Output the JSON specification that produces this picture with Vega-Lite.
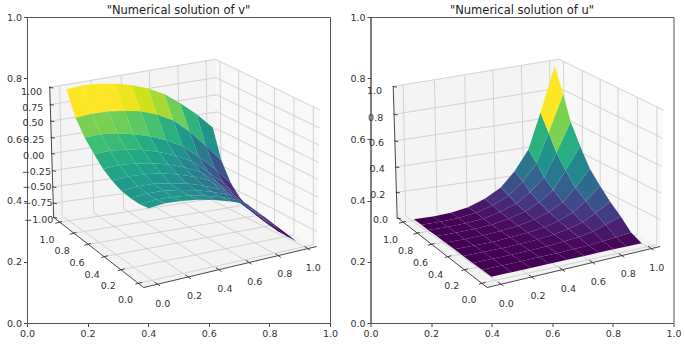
{"$schema":"https://vega.github.io/schema/vega-lite/v6.json","padding":{"left":5,"top":4,"right":0,"bottom":0},"background":"white","bounds":"flush","spacing":40.5,
"config":{"view":{"stroke":"#555555","strokeWidth":1},"font":"DejaVu Sans","axis":{"grid":false,"title":null,"domainColor":"#555555","tickColor":"#444444","labelColor":"#333333","labelFontSize":9.5,"tickSize":3.5,"labelFlush":false,"labelOverlap":false},"title":{"fontSize":11.5,"fontWeight":"normal","color":"#222222","offset":-4.3}},
"datasets":{
"grid":[
{"x":0.116,"y":0.350,"x2":0.108,"y2":0.777},{"x":0.220,"y":0.361,"x2":0.211,"y2":0.793},{"x":0.319,"y":0.374,"x2":0.311,"y2":0.807},{"x":0.413,"y":0.386,"x2":0.404,"y2":0.827},{"x":0.507,"y":0.398,"x2":0.498,"y2":0.842},{"x":0.597,"y":0.408,"x2":0.591,"y2":0.858},
{"x":0.430,"y":0.127,"x2":0.116,"y2":0.350},{"x":0.532,"y":0.150,"x2":0.220,"y2":0.361},{"x":0.633,"y":0.174,"x2":0.319,"y2":0.374},{"x":0.732,"y":0.198,"x2":0.413,"y2":0.386},{"x":0.829,"y":0.220,"x2":0.507,"y2":0.398},{"x":0.925,"y":0.244,"x2":0.597,"y2":0.408},
{"x":0.369,"y":0.130,"x2":0.945,"y2":0.256},{"x":0.311,"y":0.174,"x2":0.881,"y2":0.288},{"x":0.256,"y":0.217,"x2":0.817,"y2":0.321},{"x":0.200,"y":0.257,"x2":0.758,"y2":0.351},{"x":0.152,"y":0.293,"x2":0.699,"y2":0.382},{"x":0.105,"y":0.329,"x2":0.641,"y2":0.411},
{"x":0.945,"y":0.256,"x2":0.945,"y2":0.707},{"x":0.881,"y":0.288,"x2":0.881,"y2":0.738},{"x":0.817,"y":0.321,"x2":0.817,"y2":0.768},{"x":0.758,"y":0.351,"x2":0.758,"y2":0.797},{"x":0.699,"y":0.382,"x2":0.699,"y2":0.825},{"x":0.641,"y":0.411,"x2":0.637,"y2":0.855}],
"axes3d":[
{"x":0.075,"y":0.773,"x2":0.088,"y2":0.345},{"x":0.088,"y":0.345,"x2":0.385,"y2":0.116},{"x":0.385,"y":0.116,"x2":0.956,"y2":0.250},
{"x":0.439,"y":0.121,"x2":0.421,"y2":0.134},{"x":0.541,"y":0.144,"x2":0.523,"y2":0.157},{"x":0.642,"y":0.168,"x2":0.624,"y2":0.181},{"x":0.741,"y":0.192,"x2":0.723,"y2":0.205},{"x":0.838,"y":0.214,"x2":0.820,"y2":0.227},{"x":0.934,"y":0.238,"x2":0.916,"y2":0.251},
{"x":0.358,"y":0.127,"x2":0.380,"y2":0.133},{"x":0.300,"y":0.171,"x2":0.322,"y2":0.177},{"x":0.245,"y":0.214,"x2":0.267,"y2":0.220},{"x":0.189,"y":0.254,"x2":0.211,"y2":0.260},{"x":0.141,"y":0.290,"x2":0.163,"y2":0.296},{"x":0.094,"y":0.326,"x2":0.116,"y2":0.332}],
"xyLabels":[
{"x":0.448,"y":0.062,"t":"0.0"},{"x":0.553,"y":0.087,"t":"0.2"},{"x":0.653,"y":0.110,"t":"0.4"},{"x":0.752,"y":0.135,"t":"0.6"},{"x":0.851,"y":0.159,"t":"0.8"},{"x":0.945,"y":0.181,"t":"1.0"},
{"x":0.325,"y":0.076,"t":"0.0"},{"x":0.268,"y":0.120,"t":"0.2"},{"x":0.215,"y":0.158,"t":"0.4"},{"x":0.165,"y":0.196,"t":"0.6"},{"x":0.116,"y":0.234,"t":"0.8"},{"x":0.066,"y":0.271,"t":"1.0"}],
"zGridV":[
{"x":0.075,"y":0.770,"x2":0.622,"y2":0.862},{"x":0.622,"y":0.862,"x2":0.967,"y2":0.696},
{"x":0.077,"y":0.714,"x2":0.623,"y2":0.802},{"x":0.623,"y":0.802,"x2":0.966,"y2":0.637},
{"x":0.078,"y":0.660,"x2":0.626,"y2":0.746},{"x":0.626,"y":0.746,"x2":0.964,"y2":0.581},
{"x":0.080,"y":0.606,"x2":0.627,"y2":0.690},{"x":0.627,"y":0.690,"x2":0.963,"y2":0.524},
{"x":0.081,"y":0.554,"x2":0.628,"y2":0.634},{"x":0.628,"y":0.634,"x2":0.961,"y2":0.469},
{"x":0.084,"y":0.498,"x2":0.629,"y2":0.577},{"x":0.629,"y":0.577,"x2":0.960,"y2":0.411},
{"x":0.085,"y":0.445,"x2":0.631,"y2":0.520},{"x":0.631,"y":0.520,"x2":0.958,"y2":0.355},
{"x":0.087,"y":0.392,"x2":0.632,"y2":0.465},{"x":0.632,"y":0.465,"x2":0.957,"y2":0.299}],
"zGridU":[
{"x":0.075,"y":0.773,"x2":0.622,"y2":0.862},{"x":0.622,"y":0.862,"x2":0.967,"y2":0.696},
{"x":0.078,"y":0.682,"x2":0.624,"y2":0.768},{"x":0.624,"y":0.768,"x2":0.965,"y2":0.603},
{"x":0.080,"y":0.595,"x2":0.627,"y2":0.677},{"x":0.627,"y":0.677,"x2":0.962,"y2":0.511},
{"x":0.083,"y":0.510,"x2":0.629,"y2":0.590},{"x":0.629,"y":0.590,"x2":0.960,"y2":0.424},
{"x":0.085,"y":0.427,"x2":0.631,"y2":0.503},{"x":0.631,"y":0.503,"x2":0.958,"y2":0.337}],
"zTicksV":[
{"x":0.073,"y":0.770,"x2":0.087,"y2":0.768},{"x":0.075,"y":0.714,"x2":0.089,"y2":0.712},{"x":0.076,"y":0.660,"x2":0.090,"y2":0.658},{"x":0.078,"y":0.606,"x2":0.092,"y2":0.604},{"x":0.079,"y":0.554,"x2":0.093,"y2":0.552},{"x":0.082,"y":0.498,"x2":0.096,"y2":0.496},{"x":0.083,"y":0.445,"x2":0.097,"y2":0.443},{"x":0.085,"y":0.392,"x2":0.099,"y2":0.390},{"x":0.086,"y":0.345,"x2":0.100,"y2":0.343}],
"zTicksU":[
{"x":0.073,"y":0.773,"x2":0.087,"y2":0.771},{"x":0.076,"y":0.682,"x2":0.090,"y2":0.680},{"x":0.078,"y":0.595,"x2":0.092,"y2":0.593},{"x":0.081,"y":0.510,"x2":0.095,"y2":0.508},{"x":0.083,"y":0.427,"x2":0.097,"y2":0.425},{"x":0.086,"y":0.343,"x2":0.100,"y2":0.341}],
"zLabelsV":[
{"x":0.015,"y":0.756,"t":"1.00"},{"x":0.019,"y":0.704,"t":"0.75"},{"x":0.020,"y":0.653,"t":"0.50"},{"x":0.022,"y":0.598,"t":"0.25"},{"x":0.022,"y":0.546,"t":"0.00"},{"x":0.031,"y":0.495,"t":"−0.25"},{"x":0.033,"y":0.443,"t":"−0.50"},{"x":0.036,"y":0.392,"t":"−0.75"},{"x":0.039,"y":0.337,"t":"−1.00"}],
"zLabelsU":[
{"x":0.013,"y":0.758,"t":"1.0"},{"x":0.017,"y":0.671,"t":"0.8"},{"x":0.020,"y":0.588,"t":"0.6"},{"x":0.022,"y":0.503,"t":"0.4"},{"x":0.024,"y":0.419,"t":"0.2"},{"x":0.033,"y":0.337,"t":"0.0"}],
"paneBack":[{"x":[0.075,0.622,0.633,0.088],"y":[0.773,0.862,0.416,0.345]}],
"paneSide":[{"x":[0.622,0.967,0.956,0.633],"y":[0.862,0.696,0.250,0.416]}],
"paneFloor":[{"x":[0.088,0.633,0.956,0.385],"y":[0.345,0.416,0.250,0.116]}],
"v":[
{"id":1,"c":1,"x":[0.160,0.214,0.184,0.130],"y":[0.671,0.684,0.777,0.764]},
{"id":2,"c":1,"x":[0.214,0.268,0.238,0.184],"y":[0.684,0.691,0.782,0.777]},
{"id":3,"c":1,"x":[0.268,0.321,0.291,0.238],"y":[0.691,0.694,0.782,0.782]},
{"id":4,"c":0.97,"x":[0.321,0.375,0.345,0.291],"y":[0.694,0.692,0.778,0.782]},
{"id":5,"c":0.93,"x":[0.375,0.429,0.399,0.345],"y":[0.692,0.681,0.766,0.778]},
{"id":6,"c":0.87,"x":[0.429,0.483,0.453,0.399],"y":[0.681,0.662,0.748,0.766]},
{"id":7,"c":0.78,"x":[0.483,0.537,0.506,0.453],"y":[0.662,0.625,0.718,0.748]},
{"id":8,"c":0.65,"x":[0.537,0.590,0.560,0.506],"y":[0.625,0.579,0.682,0.718]},
{"id":9,"c":0.51,"x":[0.590,0.642,0.613,0.560],"y":[0.579,0.530,0.639,0.682]},
{"id":10,"c":0.80,"x":[0.190,0.244,0.214,0.160],"y":[0.606,0.617,0.684,0.671]},
{"id":11,"c":0.80,"x":[0.244,0.298,0.268,0.214],"y":[0.617,0.620,0.691,0.684]},
{"id":12,"c":0.78,"x":[0.298,0.352,0.321,0.268],"y":[0.620,0.617,0.694,0.691]},
{"id":13,"c":0.75,"x":[0.352,0.405,0.375,0.321],"y":[0.617,0.610,0.692,0.694]},
{"id":14,"c":0.71,"x":[0.405,0.459,0.429,0.375],"y":[0.610,0.597,0.681,0.692]},
{"id":15,"c":0.64,"x":[0.459,0.513,0.483,0.429],"y":[0.597,0.578,0.662,0.681]},
{"id":16,"c":0.54,"x":[0.513,0.567,0.537,0.483],"y":[0.578,0.543,0.625,0.662]},
{"id":17,"c":0.41,"x":[0.567,0.621,0.590,0.537],"y":[0.543,0.503,0.579,0.625]},
{"id":18,"c":0.26,"x":[0.621,0.673,0.642,0.590],"y":[0.503,0.457,0.530,0.579]},
{"id":19,"c":0.69,"x":[0.221,0.275,0.244,0.190],"y":[0.552,0.563,0.617,0.606]},
{"id":20,"c":0.68,"x":[0.275,0.329,0.298,0.244],"y":[0.563,0.567,0.620,0.617]},
{"id":21,"c":0.66,"x":[0.329,0.382,0.352,0.298],"y":[0.567,0.565,0.617,0.620]},
{"id":22,"c":0.62,"x":[0.382,0.436,0.405,0.352],"y":[0.565,0.559,0.610,0.617]},
{"id":23,"c":0.56,"x":[0.436,0.490,0.459,0.405],"y":[0.559,0.547,0.597,0.610]},
{"id":24,"c":0.51,"x":[0.490,0.544,0.513,0.459],"y":[0.547,0.529,0.578,0.597]},
{"id":25,"c":0.41,"x":[0.544,0.598,0.567,0.513],"y":[0.529,0.494,0.543,0.578]},
{"id":26,"c":0.28,"x":[0.598,0.652,0.621,0.567],"y":[0.494,0.454,0.503,0.543]},
{"id":27,"c":0.14,"x":[0.652,0.704,0.673,0.621],"y":[0.454,0.408,0.457,0.503]},
{"id":28,"c":0.62,"x":[0.251,0.305,0.275,0.221],"y":[0.503,0.516,0.563,0.552]},
{"id":29,"c":0.62,"x":[0.305,0.359,0.329,0.275],"y":[0.516,0.521,0.567,0.563]},
{"id":30,"c":0.60,"x":[0.359,0.413,0.382,0.329],"y":[0.521,0.522,0.565,0.567]},
{"id":31,"c":0.57,"x":[0.413,0.467,0.436,0.382],"y":[0.522,0.518,0.559,0.565]},
{"id":32,"c":0.52,"x":[0.467,0.521,0.490,0.436],"y":[0.518,0.508,0.547,0.559]},
{"id":33,"c":0.46,"x":[0.521,0.575,0.544,0.490],"y":[0.508,0.493,0.529,0.547]},
{"id":34,"c":0.36,"x":[0.575,0.629,0.598,0.544],"y":[0.493,0.458,0.494,0.529]},
{"id":35,"c":0.23,"x":[0.629,0.683,0.652,0.598],"y":[0.458,0.419,0.454,0.494]},
{"id":36,"c":0.09,"x":[0.683,0.735,0.704,0.652],"y":[0.419,0.375,0.408,0.454]},
{"id":37,"c":0.58,"x":[0.281,0.335,0.305,0.251],"y":[0.465,0.479,0.516,0.503]},
{"id":38,"c":0.58,"x":[0.335,0.389,0.359,0.305],"y":[0.479,0.486,0.521,0.516]},
{"id":39,"c":0.57,"x":[0.389,0.443,0.413,0.359],"y":[0.486,0.489,0.522,0.521]},
{"id":40,"c":0.54,"x":[0.443,0.497,0.467,0.413],"y":[0.489,0.485,0.518,0.522]},
{"id":41,"c":0.49,"x":[0.497,0.551,0.521,0.467],"y":[0.485,0.478,0.508,0.518]},
{"id":42,"c":0.43,"x":[0.551,0.605,0.575,0.521],"y":[0.478,0.465,0.493,0.508]},
{"id":43,"c":0.34,"x":[0.605,0.659,0.629,0.575],"y":[0.465,0.429,0.458,0.493]},
{"id":44,"c":0.21,"x":[0.659,0.713,0.683,0.629],"y":[0.429,0.391,0.419,0.458]},
{"id":45,"c":0.07,"x":[0.713,0.766,0.735,0.683],"y":[0.391,0.348,0.375,0.419]},
{"id":46,"c":0.54,"x":[0.311,0.365,0.335,0.281],"y":[0.432,0.447,0.479,0.465]},
{"id":47,"c":0.55,"x":[0.365,0.419,0.389,0.335],"y":[0.447,0.455,0.486,0.479]},
{"id":48,"c":0.53,"x":[0.419,0.473,0.443,0.389],"y":[0.455,0.457,0.489,0.486]},
{"id":49,"c":0.50,"x":[0.473,0.527,0.497,0.443],"y":[0.457,0.456,0.485,0.489]},
{"id":50,"c":0.46,"x":[0.527,0.582,0.551,0.497],"y":[0.456,0.449,0.478,0.485]},
{"id":51,"c":0.40,"x":[0.582,0.636,0.605,0.551],"y":[0.449,0.437,0.465,0.478]},
{"id":52,"c":0.31,"x":[0.636,0.690,0.659,0.605],"y":[0.437,0.402,0.429,0.465]},
{"id":53,"c":0.17,"x":[0.690,0.744,0.713,0.659],"y":[0.402,0.362,0.391,0.429]},
{"id":54,"c":0.03,"x":[0.744,0.797,0.766,0.713],"y":[0.362,0.321,0.348,0.391]},
{"id":55,"c":0.52,"x":[0.342,0.396,0.365,0.311],"y":[0.408,0.423,0.447,0.432]},
{"id":56,"c":0.53,"x":[0.396,0.450,0.419,0.365],"y":[0.423,0.432,0.455,0.447]},
{"id":57,"c":0.51,"x":[0.450,0.504,0.473,0.419],"y":[0.432,0.435,0.457,0.455]},
{"id":58,"c":0.48,"x":[0.504,0.558,0.527,0.473],"y":[0.435,0.434,0.456,0.457]},
{"id":59,"c":0.44,"x":[0.558,0.612,0.582,0.527],"y":[0.434,0.429,0.449,0.456]},
{"id":60,"c":0.39,"x":[0.612,0.666,0.636,0.582],"y":[0.429,0.418,0.437,0.449]},
{"id":61,"c":0.29,"x":[0.666,0.721,0.690,0.636],"y":[0.418,0.381,0.402,0.437]},
{"id":62,"c":0.15,"x":[0.721,0.775,0.744,0.690],"y":[0.381,0.342,0.362,0.402]},
{"id":63,"c":0.01,"x":[0.775,0.828,0.797,0.744],"y":[0.342,0.300,0.321,0.362]},
{"id":64,"c":0.52,"x":[0.372,0.426,0.396,0.342],"y":[0.388,0.404,0.423,0.408]},
{"id":65,"c":0.52,"x":[0.426,0.480,0.450,0.396],"y":[0.404,0.412,0.432,0.423]},
{"id":66,"c":0.51,"x":[0.480,0.535,0.504,0.450],"y":[0.412,0.417,0.435,0.432]},
{"id":67,"c":0.48,"x":[0.535,0.589,0.558,0.504],"y":[0.417,0.416,0.434,0.435]},
{"id":68,"c":0.44,"x":[0.589,0.643,0.612,0.558],"y":[0.416,0.411,0.429,0.434]},
{"id":69,"c":0.38,"x":[0.643,0.697,0.666,0.612],"y":[0.411,0.402,0.418,0.429]},
{"id":70,"c":0.29,"x":[0.697,0.752,0.721,0.666],"y":[0.402,0.363,0.381,0.418]},
{"id":71,"c":0.15,"x":[0.752,0.806,0.775,0.721],"y":[0.363,0.323,0.342,0.381]},
{"id":72,"c":0,"x":[0.806,0.859,0.828,0.775],"y":[0.323,0.283,0.300,0.342]},
{"id":73,"c":0.53,"x":[0.402,0.456,0.426,0.372],"y":[0.375,0.391,0.404,0.388]},
{"id":74,"c":0.53,"x":[0.456,0.510,0.480,0.426],"y":[0.391,0.399,0.412,0.404]},
{"id":75,"c":0.51,"x":[0.510,0.565,0.535,0.480],"y":[0.399,0.403,0.417,0.412]},
{"id":76,"c":0.48,"x":[0.565,0.619,0.589,0.535],"y":[0.403,0.402,0.416,0.417]},
{"id":77,"c":0.44,"x":[0.619,0.673,0.643,0.589],"y":[0.402,0.397,0.411,0.416]},
{"id":78,"c":0.39,"x":[0.673,0.727,0.697,0.643],"y":[0.397,0.388,0.402,0.411]},
{"id":79,"c":0.29,"x":[0.727,0.782,0.752,0.697],"y":[0.388,0.348,0.363,0.402]},
{"id":80,"c":0.15,"x":[0.782,0.836,0.806,0.752],"y":[0.348,0.307,0.323,0.363]},
{"id":81,"c":0,"x":[0.836,0.890,0.859,0.806],"y":[0.307,0.266,0.283,0.323]}],
"u":[
{"id":1,"c":0,"x":[0.168,0.231,0.206,0.143],"y":[0.321,0.331,0.348,0.339]},
{"id":2,"c":0.006,"x":[0.231,0.290,0.265,0.206],"y":[0.331,0.343,0.360,0.348]},
{"id":3,"c":0.024,"x":[0.290,0.348,0.322,0.265],"y":[0.343,0.360,0.378,0.360]},
{"id":4,"c":0.063,"x":[0.348,0.403,0.377,0.322],"y":[0.360,0.384,0.406,0.378]},
{"id":5,"c":0.132,"x":[0.403,0.456,0.430,0.377],"y":[0.384,0.417,0.443,0.406]},
{"id":6,"c":0.24,"x":[0.456,0.503,0.476,0.430],"y":[0.417,0.462,0.497,0.443]},
{"id":7,"c":0.393,"x":[0.503,0.548,0.521,0.476],"y":[0.462,0.521,0.567,0.497]},
{"id":8,"c":0.64,"x":[0.548,0.588,0.561,0.521],"y":[0.521,0.621,0.688,0.567]},
{"id":9,"c":1,"x":[0.588,0.636,0.608,0.561],"y":[0.621,0.748,0.840,0.688]},
{"id":10,"c":0,"x":[0.190,0.254,0.231,0.168],"y":[0.304,0.314,0.331,0.321]},
{"id":11,"c":0.005,"x":[0.254,0.314,0.290,0.231],"y":[0.314,0.326,0.343,0.331]},
{"id":12,"c":0.019,"x":[0.314,0.372,0.348,0.290],"y":[0.326,0.341,0.360,0.343]},
{"id":13,"c":0.051,"x":[0.372,0.427,0.403,0.348],"y":[0.341,0.363,0.384,0.360]},
{"id":14,"c":0.106,"x":[0.427,0.481,0.456,0.403],"y":[0.363,0.390,0.417,0.384]},
{"id":15,"c":0.193,"x":[0.481,0.527,0.503,0.456],"y":[0.390,0.428,0.462,0.417]},
{"id":16,"c":0.315,"x":[0.527,0.573,0.548,0.503],"y":[0.428,0.476,0.521,0.462]},
{"id":17,"c":0.513,"x":[0.573,0.614,0.588,0.548],"y":[0.476,0.556,0.621,0.521]},
{"id":18,"c":0.802,"x":[0.614,0.661,0.636,0.588],"y":[0.556,0.657,0.748,0.621]},
{"id":19,"c":0,"x":[0.218,0.282,0.254,0.190],"y":[0.284,0.295,0.314,0.304]},
{"id":20,"c":0.004,"x":[0.282,0.342,0.314,0.254],"y":[0.295,0.307,0.326,0.314]},
{"id":21,"c":0.015,"x":[0.342,0.400,0.372,0.314],"y":[0.307,0.321,0.341,0.326]},
{"id":22,"c":0.039,"x":[0.400,0.456,0.427,0.372],"y":[0.321,0.341,0.363,0.341]},
{"id":23,"c":0.082,"x":[0.456,0.510,0.481,0.427],"y":[0.341,0.364,0.390,0.363]},
{"id":24,"c":0.15,"x":[0.510,0.557,0.527,0.481],"y":[0.364,0.395,0.428,0.390]},
{"id":25,"c":0.245,"x":[0.557,0.603,0.573,0.527],"y":[0.395,0.435,0.476,0.428]},
{"id":26,"c":0.399,"x":[0.603,0.644,0.614,0.573],"y":[0.435,0.498,0.556,0.476]},
{"id":27,"c":0.624,"x":[0.644,0.692,0.661,0.614],"y":[0.498,0.578,0.657,0.556]},
{"id":28,"c":0,"x":[0.246,0.311,0.282,0.218],"y":[0.263,0.274,0.295,0.284]},
{"id":29,"c":0.003,"x":[0.311,0.372,0.342,0.282],"y":[0.274,0.287,0.307,0.295]},
{"id":30,"c":0.011,"x":[0.372,0.430,0.400,0.342],"y":[0.287,0.301,0.321,0.307]},
{"id":31,"c":0.03,"x":[0.430,0.487,0.456,0.400],"y":[0.301,0.318,0.341,0.321]},
{"id":32,"c":0.062,"x":[0.487,0.541,0.510,0.456],"y":[0.318,0.338,0.364,0.341]},
{"id":33,"c":0.113,"x":[0.541,0.588,0.557,0.510],"y":[0.338,0.363,0.395,0.364]},
{"id":34,"c":0.185,"x":[0.588,0.635,0.603,0.557],"y":[0.363,0.395,0.435,0.395]},
{"id":35,"c":0.301,"x":[0.635,0.676,0.644,0.603],"y":[0.395,0.442,0.498,0.435]},
{"id":36,"c":0.47,"x":[0.676,0.724,0.692,0.644],"y":[0.442,0.504,0.578,0.498]},
{"id":37,"c":0,"x":[0.277,0.342,0.311,0.246],"y":[0.241,0.253,0.274,0.263]},
{"id":38,"c":0.002,"x":[0.342,0.403,0.372,0.311],"y":[0.253,0.265,0.287,0.274]},
{"id":39,"c":0.008,"x":[0.403,0.462,0.430,0.372],"y":[0.265,0.280,0.301,0.287]},
{"id":40,"c":0.022,"x":[0.462,0.519,0.487,0.430],"y":[0.280,0.295,0.318,0.301]},
{"id":41,"c":0.046,"x":[0.519,0.574,0.541,0.487],"y":[0.295,0.313,0.338,0.318]},
{"id":42,"c":0.083,"x":[0.574,0.621,0.588,0.541],"y":[0.313,0.334,0.363,0.338]},
{"id":43,"c":0.136,"x":[0.621,0.668,0.635,0.588],"y":[0.334,0.361,0.395,0.363]},
{"id":44,"c":0.221,"x":[0.668,0.710,0.676,0.635],"y":[0.361,0.399,0.442,0.395]},
{"id":45,"c":0.346,"x":[0.710,0.758,0.724,0.676],"y":[0.399,0.448,0.504,0.442]},
{"id":46,"c":0,"x":[0.306,0.372,0.342,0.277],"y":[0.219,0.232,0.253,0.241]},
{"id":47,"c":0.002,"x":[0.372,0.433,0.403,0.342],"y":[0.232,0.244,0.265,0.253]},
{"id":48,"c":0.006,"x":[0.433,0.493,0.462,0.403],"y":[0.244,0.258,0.280,0.265]},
{"id":49,"c":0.016,"x":[0.493,0.551,0.519,0.462],"y":[0.258,0.273,0.295,0.280]},
{"id":50,"c":0.033,"x":[0.551,0.605,0.574,0.519],"y":[0.273,0.289,0.313,0.295]},
{"id":51,"c":0.061,"x":[0.605,0.653,0.621,0.574],"y":[0.289,0.307,0.334,0.313]},
{"id":52,"c":0.099,"x":[0.653,0.700,0.668,0.621],"y":[0.307,0.329,0.361,0.334]},
{"id":53,"c":0.162,"x":[0.700,0.742,0.710,0.668],"y":[0.329,0.359,0.399,0.361]},
{"id":54,"c":0.253,"x":[0.742,0.791,0.758,0.710],"y":[0.359,0.396,0.448,0.399]},
{"id":55,"c":0,"x":[0.337,0.403,0.372,0.306],"y":[0.196,0.210,0.232,0.219]},
{"id":56,"c":0.001,"x":[0.403,0.465,0.433,0.372],"y":[0.210,0.223,0.244,0.232]},
{"id":57,"c":0.004,"x":[0.465,0.525,0.493,0.433],"y":[0.223,0.237,0.258,0.244]},
{"id":58,"c":0.011,"x":[0.525,0.583,0.551,0.493],"y":[0.237,0.251,0.273,0.258]},
{"id":59,"c":0.022,"x":[0.583,0.638,0.605,0.551],"y":[0.251,0.266,0.289,0.273]},
{"id":60,"c":0.041,"x":[0.638,0.687,0.653,0.605],"y":[0.266,0.281,0.307,0.289]},
{"id":61,"c":0.067,"x":[0.687,0.734,0.700,0.653],"y":[0.281,0.299,0.329,0.307]},
{"id":62,"c":0.109,"x":[0.734,0.776,0.742,0.700],"y":[0.299,0.321,0.359,0.329]},
{"id":63,"c":0.17,"x":[0.776,0.826,0.791,0.742],"y":[0.321,0.348,0.396,0.359]},
{"id":64,"c":0,"x":[0.368,0.434,0.403,0.337],"y":[0.174,0.188,0.210,0.196]},
{"id":65,"c":0.001,"x":[0.434,0.497,0.465,0.403],"y":[0.188,0.202,0.223,0.210]},
{"id":66,"c":0.002,"x":[0.497,0.557,0.525,0.465],"y":[0.202,0.216,0.237,0.223]},
{"id":67,"c":0.006,"x":[0.557,0.616,0.583,0.525],"y":[0.216,0.228,0.251,0.237]},
{"id":68,"c":0.012,"x":[0.616,0.671,0.638,0.583],"y":[0.228,0.242,0.266,0.251]},
{"id":69,"c":0.021,"x":[0.671,0.720,0.687,0.638],"y":[0.242,0.253,0.281,0.266]},
{"id":70,"c":0.035,"x":[0.720,0.767,0.734,0.687],"y":[0.253,0.267,0.299,0.281]},
{"id":71,"c":0.056,"x":[0.767,0.810,0.776,0.734],"y":[0.267,0.280,0.321,0.299]},
{"id":72,"c":0.088,"x":[0.810,0.860,0.826,0.776],"y":[0.280,0.296,0.348,0.321]},
{"id":73,"c":0,"x":[0.399,0.466,0.434,0.368],"y":[0.151,0.166,0.188,0.174]},
{"id":74,"c":0,"x":[0.466,0.529,0.497,0.434],"y":[0.166,0.180,0.202,0.188]},
{"id":75,"c":0.001,"x":[0.529,0.590,0.557,0.497],"y":[0.180,0.194,0.216,0.202]},
{"id":76,"c":0.001,"x":[0.590,0.649,0.616,0.557],"y":[0.194,0.207,0.228,0.216]},
{"id":77,"c":0.003,"x":[0.649,0.705,0.671,0.616],"y":[0.207,0.219,0.242,0.228]},
{"id":78,"c":0.005,"x":[0.705,0.754,0.720,0.671],"y":[0.219,0.230,0.253,0.242]},
{"id":79,"c":0.009,"x":[0.754,0.802,0.767,0.720],"y":[0.230,0.241,0.267,0.253]},
{"id":80,"c":0.014,"x":[0.802,0.845,0.810,0.767],"y":[0.241,0.250,0.280,0.267]},
{"id":81,"c":0.022,"x":[0.845,0.895,0.860,0.810],"y":[0.250,0.261,0.296,0.280]}]
},
"hconcat":[
{"width":303,"height":306,"title":"\"Numerical solution of v\"",
"encoding":{"x":{"field":"x","type":"quantitative","scale":{"domain":[0,1],"nice":false},"axis":{"values":[0,0.2,0.4,0.6,0.8,1],"format":".1f"}},"y":{"field":"y","type":"quantitative","scale":{"domain":[0,1],"nice":false},"axis":{"values":[0,0.2,0.4,0.6,0.8,1],"format":".1f"}}},
"layer":[
{"data":{"name":"paneBack"},"transform":[{"flatten":["x","y"]}],"mark":{"type":"line","filled":true,"fill":"#f4f4f4","strokeWidth":0},"encoding":{"order":{"value":null}}},
{"data":{"name":"paneSide"},"transform":[{"flatten":["x","y"]}],"mark":{"type":"line","filled":true,"fill":"#f8f8f8","strokeWidth":0},"encoding":{"order":{"value":null}}},
{"data":{"name":"paneFloor"},"transform":[{"flatten":["x","y"]}],"mark":{"type":"line","filled":true,"fill":"#f3f3f3","strokeWidth":0},"encoding":{"order":{"value":null}}},
{"data":{"name":"grid"},"mark":{"type":"rule","color":"#cfcfcf","strokeWidth":0.9},"encoding":{"x2":{"field":"x2"},"y2":{"field":"y2"}}},
{"data":{"name":"zGridV"},"mark":{"type":"rule","color":"#cfcfcf","strokeWidth":0.9},"encoding":{"x2":{"field":"x2"},"y2":{"field":"y2"}}},
{"data":{"name":"v"},"transform":[{"flatten":["x","y"]}],"mark":{"type":"line","filled":true,"strokeWidth":0},"encoding":{"detail":{"field":"id"},"order":{"value":null},"fill":{"field":"c","type":"quantitative","scale":{"scheme":"viridis","domain":[0,1]},"legend":null}}},
{"data":{"name":"axes3d"},"mark":{"type":"rule","color":"#333333","strokeWidth":0.9},"encoding":{"x2":{"field":"x2"},"y2":{"field":"y2"}}},
{"data":{"name":"zTicksV"},"mark":{"type":"rule","color":"#333333","strokeWidth":0.9},"encoding":{"x2":{"field":"x2"},"y2":{"field":"y2"}}},
{"data":{"name":"xyLabels"},"mark":{"type":"text","fontSize":9.5,"color":"#333333","baseline":"middle"},"encoding":{"text":{"field":"t"}}},
{"data":{"name":"zLabelsV"},"mark":{"type":"text","fontSize":9.5,"color":"#333333","baseline":"middle"},"encoding":{"text":{"field":"t"}}}
]},
{"width":303,"height":306,"title":"\"Numerical solution of u\"",
"encoding":{"x":{"field":"x","type":"quantitative","scale":{"domain":[0,1],"nice":false},"axis":{"values":[0,0.2,0.4,0.6,0.8,1],"format":".1f"}},"y":{"field":"y","type":"quantitative","scale":{"domain":[0,1],"nice":false},"axis":{"values":[0,0.2,0.4,0.6,0.8,1],"format":".1f"}}},
"layer":[
{"data":{"name":"paneBack"},"transform":[{"flatten":["x","y"]}],"mark":{"type":"line","filled":true,"fill":"#f4f4f4","strokeWidth":0},"encoding":{"order":{"value":null}}},
{"data":{"name":"paneSide"},"transform":[{"flatten":["x","y"]}],"mark":{"type":"line","filled":true,"fill":"#f8f8f8","strokeWidth":0},"encoding":{"order":{"value":null}}},
{"data":{"name":"paneFloor"},"transform":[{"flatten":["x","y"]}],"mark":{"type":"line","filled":true,"fill":"#f3f3f3","strokeWidth":0},"encoding":{"order":{"value":null}}},
{"data":{"name":"grid"},"mark":{"type":"rule","color":"#cfcfcf","strokeWidth":0.9},"encoding":{"x2":{"field":"x2"},"y2":{"field":"y2"}}},
{"data":{"name":"zGridU"},"mark":{"type":"rule","color":"#cfcfcf","strokeWidth":0.9},"encoding":{"x2":{"field":"x2"},"y2":{"field":"y2"}}},
{"data":{"name":"u"},"transform":[{"flatten":["x","y"]}],"mark":{"type":"line","filled":true,"strokeWidth":0},"encoding":{"detail":{"field":"id"},"order":{"value":null},"fill":{"field":"c","type":"quantitative","scale":{"scheme":"viridis","domain":[0,1]},"legend":null}}},
{"data":{"name":"axes3d"},"mark":{"type":"rule","color":"#333333","strokeWidth":0.9},"encoding":{"x2":{"field":"x2"},"y2":{"field":"y2"}}},
{"data":{"name":"zTicksU"},"mark":{"type":"rule","color":"#333333","strokeWidth":0.9},"encoding":{"x2":{"field":"x2"},"y2":{"field":"y2"}}},
{"data":{"name":"xyLabels"},"mark":{"type":"text","fontSize":9.5,"color":"#333333","baseline":"middle"},"encoding":{"text":{"field":"t"}}},
{"data":{"name":"zLabelsU"},"mark":{"type":"text","fontSize":9.5,"color":"#333333","baseline":"middle"},"encoding":{"text":{"field":"t"}}}
]}
]}
